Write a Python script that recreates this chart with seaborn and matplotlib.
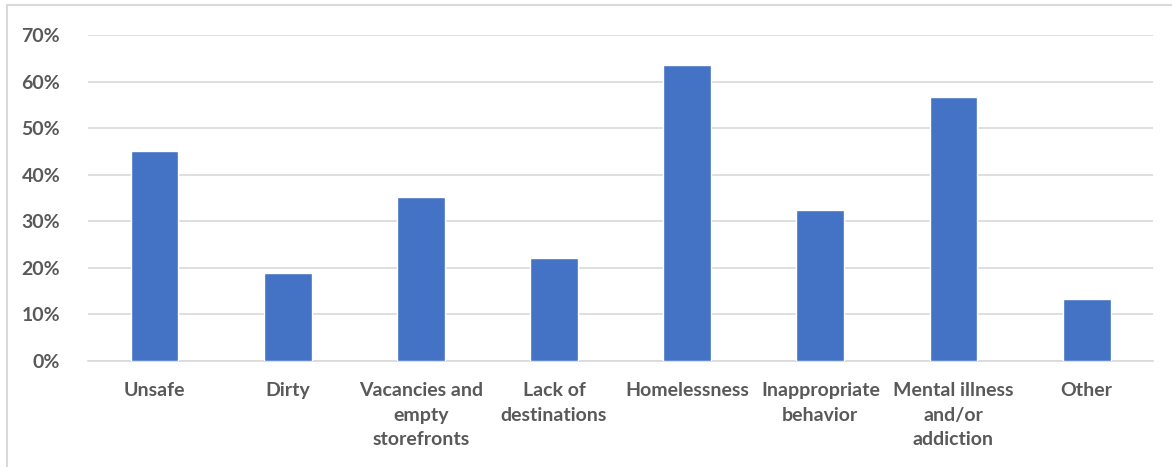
import matplotlib
matplotlib.use("Agg")
import matplotlib.pyplot as plt
import seaborn as sns
import pandas as pd
from matplotlib.patches import Rectangle
from matplotlib.ticker import PercentFormatter

categories = [
    "Unsafe",
    "Dirty",
    "Vacancies and\nempty\nstorefronts",
    "Lack of\ndestinations",
    "Homelessness",
    "Inappropriate\nbehavior",
    "Mental illness\nand/or\naddiction",
    "Other",
]
shares = [0.45, 0.19, 0.352, 0.222, 0.635, 0.325, 0.567, 0.133]
y_ticks = [0.0, 0.1, 0.2, 0.3, 0.4, 0.5, 0.6, 0.7]

sns.set_theme(style="white")
plt.rcParams["font.family"] = ["Lato", "DejaVu Sans"]

df = pd.DataFrame({"category": categories, "share": shares})

fig = plt.figure(figsize=(11.72, 4.67), dpi=100)
ax = fig.add_axes([0.075, 0.227, 0.909, 0.698])

sns.barplot(data=df, x="category", y="share", color="#4472C4", width=0.36,
            saturation=1, ax=ax, zorder=3)

ax.set_ylim(0, 0.7)
ax.set_yticks(y_ticks)
ax.yaxis.set_major_formatter(PercentFormatter(1.0, decimals=0))
ax.grid(axis="y", color="#d9d9d9", linewidth=1.2, zorder=0)
ax.set_axisbelow(True)
for side in ["top", "right", "left"]:
    ax.spines[side].set_visible(False)
ax.spines["bottom"].set_color("#d9d9d9")
ax.spines["bottom"].set_linewidth(1.2)
ax.set_xlabel("")
ax.set_ylabel("")
ax.tick_params(axis="both", length=0, colors="#595959")
ax.tick_params(axis="y", pad=20)
ax.tick_params(axis="x", pad=15)
for lbl in ax.get_yticklabels():
    lbl.set_fontsize(14)
    lbl.set_fontweight("bold")
for lbl in ax.get_xticklabels():
    lbl.set_fontsize(14)
    lbl.set_fontweight("bold")
    lbl.set_linespacing(1.55)

# light frame around the chart area
fig.patches.append(Rectangle((7 / 1172, -0.01), 1.2, 1 - 5 / 467 + 0.01,
                             transform=fig.transFigure, fill=False,
                             edgecolor="#d9d9d9", linewidth=1.5))

fig.savefig("out.png", dpi=100)
